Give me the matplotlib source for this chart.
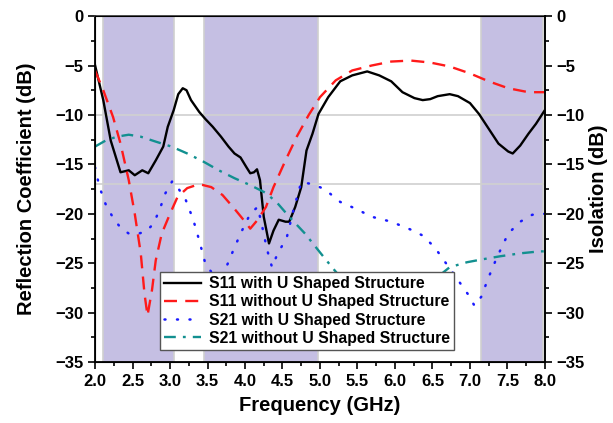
import matplotlib
matplotlib.use("Agg")
import matplotlib.pyplot as plt
from matplotlib.ticker import MultipleLocator

plt.rcParams['font.family'] = ['Liberation Sans', 'DejaVu Sans']
plt.rcParams['font.weight'] = 'bold'

# S11 with U shaped structure (black)
s11_u_f = [2.0, 2.11, 2.21, 2.34, 2.45, 2.53, 2.63, 2.71, 2.81, 2.91, 2.97, 3.05, 3.11, 3.17, 3.22, 3.28, 3.39,
           3.47, 3.57, 3.68, 3.78, 3.86, 3.94, 4.02, 4.07, 4.12, 4.16, 4.20, 4.25, 4.32, 4.38, 4.45,
           4.54, 4.59, 4.67, 4.75, 4.82, 4.90, 4.98, 5.11, 5.27, 5.43, 5.63, 5.79, 5.95, 6.10, 6.26,
           6.37, 6.47, 6.57, 6.73, 6.84, 7.0, 7.12, 7.25, 7.38, 7.51, 7.57, 7.67, 7.78, 7.88, 8.0]
s11_u = [-4.96, -8.5, -12.6, -15.8, -15.6, -16.1, -15.6, -15.9, -14.6, -13.2, -11.2, -9.5, -7.9, -7.3, -7.5, -8.5, -9.7,
         -10.4, -11.2, -12.2, -13.2, -13.9, -14.3, -15.3, -15.9, -15.8, -15.5, -16.6, -20.3, -23.0, -21.7, -20.6,
         -20.8, -20.8, -19.3, -17.3, -13.6, -11.9, -9.9, -8.2, -6.6, -6.0, -5.6, -6.0, -6.6, -7.7, -8.3,
         -8.5, -8.4, -8.1, -7.9, -8.1, -8.8, -9.9, -11.4, -12.9, -13.7, -13.9, -13.1, -11.9, -10.9, -9.5]

# S11 without U shaped structure (red dashed)
s11_nu_f = [2.0, 2.11, 2.24, 2.34, 2.45, 2.53, 2.61, 2.66, 2.70, 2.76, 2.81, 2.89, 3.0, 3.10, 3.23,
            3.39, 3.55, 3.70, 3.86, 3.99, 4.07, 4.17, 4.28, 4.38, 4.54, 4.69, 4.85, 5.0, 5.21, 5.43,
            5.69, 5.95, 6.21, 6.47, 6.73, 7.0, 7.25, 7.51, 7.78, 8.0]
s11_nu = [-5.5, -7.5, -10.2, -12.9, -16.6, -20.0, -24.0, -28.1, -30.3, -27.7, -24.7, -22.0, -20.0, -18.3, -17.4,
          -17.0, -17.3, -18.1, -19.5, -20.7, -21.5, -20.6, -19.3, -17.3, -14.6, -12.2, -10.0, -8.2, -6.5, -5.5,
          -5.0, -4.6, -4.5, -4.7, -5.1, -5.8, -6.6, -7.3, -7.7, -7.7]

# S21 with U shaped structure (blue dotted)
s21_u_f = [2.0, 2.06, 2.14, 2.24, 2.34, 2.45, 2.58, 2.68, 2.78, 2.86, 2.94, 3.03, 3.10, 3.21, 3.31,
           3.39, 3.47, 3.57, 3.65, 3.75, 3.86, 3.96, 4.07, 4.17, 4.25, 4.29, 4.36, 4.42, 4.49, 4.56,
           4.65, 4.75, 4.90, 5.06, 5.27, 5.48, 5.69, 5.95, 6.21, 6.37, 6.53, 6.68, 6.84, 6.97, 7.06,
           7.15, 7.25, 7.36, 7.51, 7.67, 7.83, 8.0]
s21_u = [-15.3, -17.3, -19.0, -20.4, -21.4, -22.0, -22.0, -21.8, -21.0, -19.6, -17.9, -16.7, -17.3, -18.6, -20.6,
         -22.7, -25.0, -26.1, -26.3, -25.4, -23.4, -21.7, -20.0, -19.3, -22.0, -23.5, -25.4, -24.3, -23.3, -22.3,
         -19.5, -16.8, -17.0, -17.5, -18.8, -19.5, -20.3, -20.8, -21.6, -22.2, -23.4, -25.0, -26.7, -28.1, -29.3,
         -28.4, -26.4, -24.4, -22.0, -20.8, -20.1, -20.0]

# S21 without U shaped structure (teal dash-dot)
s21_nu_f = [2.0, 2.14, 2.29, 2.45, 2.61, 2.81, 3.02, 3.23, 3.44, 3.65, 3.86, 4.07, 4.28, 4.43, 4.59,
            4.80, 5.01, 5.16, 5.27, 5.5, 5.8, 6.1, 6.4, 6.6, 6.73, 6.96, 7.17, 7.4, 7.67, 7.93, 8.0]
s21_nu = [-13.2, -12.6, -12.2, -12.0, -12.2, -12.7, -13.2, -13.9, -14.7, -15.6, -16.4, -17.1, -17.9, -18.9, -20.3,
          -22.0, -24.0, -25.4, -26.4, -27.3, -27.8, -27.6, -26.8, -26.2, -25.4, -24.9, -24.6, -24.3, -24.0, -23.8, -23.8]

# shaded bands (GHz)
bands = [(2.1, 3.05), (3.45, 4.98), (7.15, 7.98)]
ref_levels = [-10, -17]

fig = plt.figure(figsize=(6.13, 4.23), dpi=100)
ax = fig.add_axes([0.155, 0.144, 0.734, 0.818])

for lo, hi in bands:
    ax.axvspan(lo, hi, facecolor='#c5bfe3', edgecolor='#cfcfcf', lw=1.2, zorder=0)
for lv in ref_levels:
    ax.axhline(lv, color='#d0d0d0', lw=1.2, zorder=0.5)

ax.plot(s11_u_f, s11_u, color='black', lw=1.7, label='S11 with U Shaped Structure')
ax.plot(s11_nu_f, s11_nu, color='#ff1a1a', lw=1.7, dashes=(5.5, 3.5), label='S11 without U Shaped Structure')
ax.plot(s21_u_f, s21_u, color='#1a1aff', lw=1.8, dashes=(0.4, 4.6), dash_capstyle='round',
        label='S21 with U Shaped Structure')
ax.plot(s21_nu_f, s21_nu, color='#129090', lw=1.7, dashes=(5, 3, 1.2, 3), label='S21 without U Shaped Structure')

ax.set_xlim(2.0, 8.0)
ax.set_ylim(-35, 0)
ax.xaxis.set_major_locator(MultipleLocator(0.5))
ax.xaxis.set_minor_locator(MultipleLocator(0.25))
ax.yaxis.set_major_locator(MultipleLocator(5))
ax.yaxis.set_minor_locator(MultipleLocator(2.5))
ax.xaxis.set_major_formatter(plt.FormatStrFormatter('%.1f'))
ax.tick_params(which='both', direction='out', width=1.2, top=False, labelsize=12)
ax.tick_params(which='major', length=5)
ax.tick_params(which='minor', length=3)
for sp in ax.spines.values():
    sp.set_linewidth(1.3)
ax.spines['top'].set_color('#444444')
ax.spines['right'].set_color('#444444')

ax.set_xlabel('Frequency (GHz)', fontsize=14.5, fontweight='bold', labelpad=5)
ax.set_ylabel('Reflection Coefficient (dB)', fontsize=14.5, fontweight='bold', labelpad=14)

ax2 = ax.twinx()
ax2.set_ylim(-35, 0)
ax2.yaxis.set_major_locator(MultipleLocator(5))
ax2.yaxis.set_minor_locator(MultipleLocator(2.5))
ax2.tick_params(which='both', direction='out', width=1.2, labelsize=12)
ax2.tick_params(which='major', length=5)
ax2.tick_params(which='minor', length=3)
ax2.spines['right'].set_linewidth(1.3)
ax2.set_ylabel('Isolation (dB)', fontsize=14.5, fontweight='bold', labelpad=3)

leg = ax.legend(loc='lower left', bbox_to_anchor=(0.144, 0.036), fontsize=11.3, handlelength=2.4,
                frameon=True, fancybox=False, framealpha=1, edgecolor='#555555',
                borderpad=0.25, labelspacing=0.2, handletextpad=0.5, borderaxespad=0)
leg.get_frame().set_linewidth(1.0)
leg.set_zorder(5)

fig.savefig('out.png', dpi=100)
